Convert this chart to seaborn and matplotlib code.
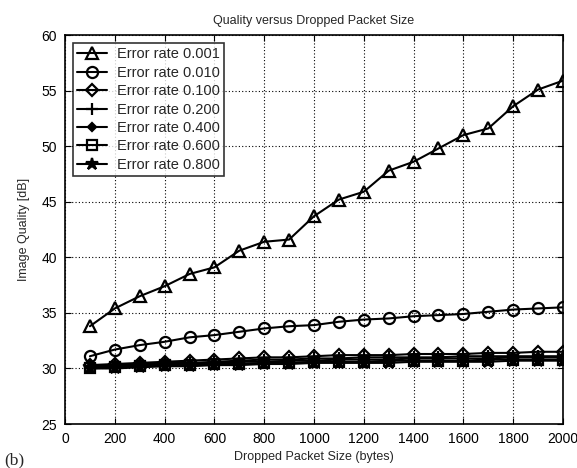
import matplotlib
matplotlib.use("Agg")
import matplotlib.pyplot as plt
import seaborn as sns
import numpy as np

sns.set_style("white")
plt.rcParams["font.family"] = ["Liberation Sans", "DejaVu Sans"]

packet_size = [100, 200, 300, 400, 500, 600, 700, 800, 900, 1000,
               1100, 1200, 1300, 1400, 1500, 1600, 1700, 1800, 1900, 2000]

rate_0001 = [33.8, 35.4, 36.5, 37.4, 38.5, 39.1, 40.6, 41.4, 41.6, 43.7,
             45.2, 45.9, 47.8, 48.6, 49.8, 51.0, 51.6, 53.6, 55.1, 55.9]
rate_0010 = [31.1, 31.7, 32.1, 32.4, 32.8, 33.0, 33.3, 33.6, 33.8, 33.9,
             34.2, 34.4, 34.5, 34.7, 34.8, 34.9, 35.1, 35.3, 35.4, 35.5]
rate_0100 = [30.3, 30.4, 30.5, 30.6, 30.7, 30.8, 30.9, 31.0, 31.0, 31.1,
             31.2, 31.2, 31.2, 31.3, 31.3, 31.3, 31.4, 31.4, 31.5, 31.5]
rate_0200 = [30.2, 30.3, 30.4, 30.5, 30.5, 30.6, 30.7, 30.8, 30.8, 30.9,
             30.9, 31.0, 31.0, 31.0, 31.0, 31.1, 31.1, 31.1, 31.1, 31.1]
rate_0400 = [30.1, 30.2, 30.3, 30.4, 30.4, 30.5, 30.6, 30.6, 30.7, 30.7,
             30.8, 30.8, 30.8, 30.9, 30.9, 30.9, 30.9, 31.0, 31.0, 31.0]
rate_0600 = [30.0, 30.1, 30.2, 30.3, 30.3, 30.4, 30.4, 30.5, 30.5, 30.6,
             30.6, 30.6, 30.7, 30.7, 30.7, 30.7, 30.8, 30.8, 30.8, 30.8]
rate_0800 = [30.0, 30.0, 30.1, 30.2, 30.2, 30.3, 30.3, 30.4, 30.4, 30.5,
             30.5, 30.5, 30.5, 30.6, 30.6, 30.6, 30.6, 30.7, 30.7, 30.7]

labels = ["Error rate 0.001", "Error rate 0.010", "Error rate 0.100",
          "Error rate 0.200", "Error rate 0.400", "Error rate 0.600",
          "Error rate 0.800"]
series = [rate_0001, rate_0010, rate_0100, rate_0200, rate_0400, rate_0600, rate_0800]
markers = ["^", "o", "D", "+", "D", "s", "*"]
sizes = [8.5, 8, 6.5, 9, 4, 7, 9]
fills = ["none", "none", "none", "k", "k", "none", "k"]

fig = plt.figure(figsize=(5.77, 4.68), dpi=100)
ax = fig.add_axes([0.1127, 0.094, 0.863, 0.831])

for vals, lab, m, s, fc in zip(series, labels, markers, sizes, fills):
    sns.lineplot(x=packet_size, y=vals, ax=ax, color="black", linewidth=1.5,
                 marker=m, markersize=s, markerfacecolor=fc,
                 markeredgecolor="black", markeredgewidth=1.6, label=lab)

ax.set_xlim(0, 2000)
ax.set_ylim(25, 60)
ax.set_xticks(np.arange(0, 2001, 200))
ax.set_yticks(np.arange(25, 61, 5))
ax.grid(True, color="black", linestyle=(0, (1, 2)), linewidth=0.8)
for sp in ax.spines.values():
    sp.set_color("black")
    sp.set_linewidth(1.2)
ax.tick_params(axis="both", direction="in", length=4, color="black",
               labelsize=10, labelcolor="black", top=True, right=True,
               bottom=True, left=True, pad=6)

ax.set_title("Quality versus Dropped Packet Size", fontsize=9, pad=8)
ax.set_xlabel("Dropped Packet Size (bytes)", fontsize=9, labelpad=3)
ax.set_ylabel("Image Quality [dB]", fontsize=9, labelpad=8)

leg = ax.legend(loc="upper left", fontsize=10.5, frameon=True, fancybox=False,
                edgecolor="black", handlelength=2.0, borderpad=0.3,
                labelspacing=0.3, handletextpad=0.7, borderaxespad=0.55)
leg.get_frame().set_linewidth(1.2)

fig.text(0.008, 0.008, "(b)", fontsize=12.5, family=["Liberation Serif", "DejaVu Serif"])

fig.savefig("out.png", dpi=100)
